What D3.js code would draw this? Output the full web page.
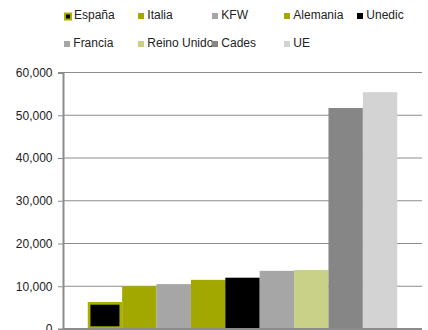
<!DOCTYPE html>
<html><head><meta charset="utf-8">
<script src="https://cdn.jsdelivr.net/npm/d3@7"></script>
<style>body{margin:0;background:#fff}svg{display:block}</style>
</head><body><svg id="c" width="428" height="330"></svg>
<script>
const categories = ["España","Italia","KFW","Alemania","Unedic","Francia","Reino Unido","Cades","UE"];
const values = [6000,10000,10500,11500,12000,13600,13800,51700,55400];
const colors = ["#000000","#a2a800","#a6a6a6","#a2a800","#000000","#a6a6a6","#c9d189","#868686","#d3d3d3"];
const strokes = ["#a9b000",null,null,null,null,null,null,null,null];
const yTicks = [0,10000,20000,30000,40000,50000,60000];

(function(){
const svg = d3.select("#c");
const mLeft = 63, mRight = 422, mTop = 72.5, mBottom = 329;
const font = "'Liberation Sans', Arial, sans-serif";
const x = d3.scaleBand().domain(categories).range([mLeft, mRight]).paddingInner(0).paddingOuter(0.72);
const y = d3.scaleLinear().domain([0,60000]).range([mBottom, mTop]);

// gridlines
svg.append("g").selectAll("line").data(yTicks.slice(1)).join("line")
  .attr("x1", mLeft).attr("x2", mRight)
  .attr("y1", d=>y(d)).attr("y2", d=>y(d))
  .attr("stroke", "#8c8c8c").attr("stroke-width", 1);

// bars
svg.append("g").selectAll("rect").data(categories).join("rect")
  .attr("x", (d,i)=> x(d) + (strokes[i]?1.35:0))
  .attr("width", (d,i)=> x.bandwidth() - (strokes[i]?2.7:0))
  .attr("y", (d,i)=> y(values[i]))
  .attr("height", (d,i)=> mBottom - y(values[i]) - (strokes[i]?1.35:0))
  .attr("fill", (d,i)=>colors[i])
  .attr("stroke", (d,i)=>strokes[i]||"none")
  .attr("stroke-width", 2.7);

// y axis
const ax = svg.append("g").attr("transform", `translate(${mLeft},0)`)
  .call(d3.axisLeft(y).tickValues(yTicks).tickFormat(d3.format(",")).tickSize(5).tickPadding(5.5));
ax.select(".domain").attr("stroke","#8c8c8c").attr("stroke-width",2);
ax.selectAll(".tick line").attr("stroke","#8c8c8c");
ax.selectAll("text").attr("font-family",font).attr("font-size","12px").attr("fill","#222");
// x axis baseline
svg.append("line").attr("x1",mLeft).attr("x2",mRight).attr("y1",mBottom).attr("y2",mBottom)
  .attr("stroke","#8c8c8c").attr("stroke-width",2);

// legend
const legX = [64,138,212,284,357];
const legY = [15,43];
const lg = svg.append("g");
categories.forEach((c,i)=>{
  const col = i<5 ? i : i-5, row = i<5?0:1;
  const gx = legX[col], gy = legY[row];
  const g = lg.append("g");
  if (strokes[i]) {
    g.append("rect").attr("x",gx).attr("y",gy-2.5).attr("width",8).attr("height",8).attr("fill",strokes[i]);
    g.append("rect").attr("x",gx+2).attr("y",gy-0.5).attr("width",4).attr("height",4).attr("fill",colors[i]);
  } else {
    g.append("rect").attr("x",gx).attr("y",gy-2).attr("width",6).attr("height",6).attr("fill",colors[i]);
  }
  g.append("text").attr("x", gx + (strokes[i]?10:9.3)).attr("y", gy+4)
    .attr("font-family",font).attr("font-size","12px").attr("fill","#222")
    .text(c);
});
})();
</script></body></html>
